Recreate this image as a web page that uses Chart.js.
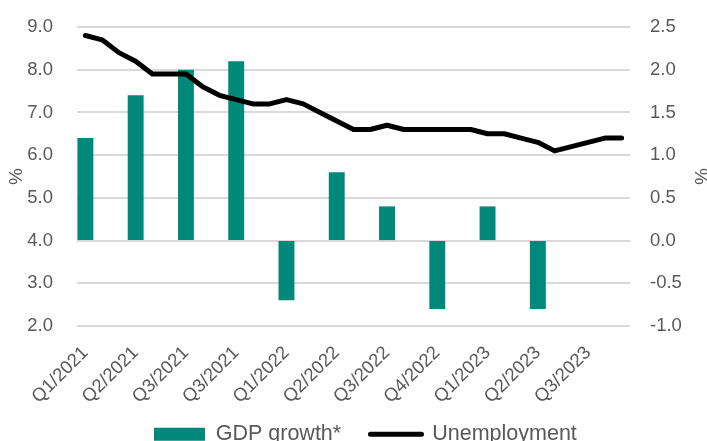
<!DOCTYPE html>
<html>
<head>
<meta charset="utf-8">
<script src="https://cdn.jsdelivr.net/npm/chart.js@4"></script>
<style>
  html, body { margin: 0; padding: 0; background: #ffffff; overflow: hidden; }
  #wrap { width: 707px; height: 441px; overflow: hidden; }
  canvas { display: block; }
</style>
</head>
<body>
<div id="wrap"><canvas id="chart" width="707" height="455"></canvas></div>
<script>
// Quarter labels on the time axis (one per quarter, three months each)
const quarterLabels = ['Q1/2021', 'Q2/2021', 'Q3/2021', 'Q3/2021', 'Q1/2022', 'Q2/2022',
                       'Q3/2022', 'Q4/2022', 'Q1/2023', 'Q2/2023', 'Q3/2023'];

// Quarterly GDP growth, % (right axis)
const gdpGrowth = [1.2, 1.7, 2.0, 2.1, -0.7, 0.8, 0.4, -0.8, 0.4, -0.8];

// Monthly unemployment rate, % (left axis)
const unemployment = [8.8, 8.7, 8.4, 8.2, 7.9, 7.9, 7.9, 7.6, 7.4, 7.3, 7.2, 7.2,
                      7.3, 7.2, 7.0, 6.8, 6.6, 6.6, 6.7, 6.6, 6.6, 6.6, 6.6, 6.6,
                      6.5, 6.5, 6.4, 6.3, 6.1, 6.2, 6.3, 6.4, 6.4];

// Axis ranges
const leftRange = { min: 2, max: 9, step: 1 };
const rightRange = { min: -1, max: 2.5, step: 0.5 };

// Monthly category axis: each quarter label sits on the quarter's first month
const monthLabels = [];
quarterLabels.forEach(q => { monthLabels.push(q, '', ''); });

// GDP bars are placed on the first month of each quarter
const gdpMonthly = monthLabels.map(() => null);
gdpGrowth.forEach((v, i) => { gdpMonthly[i * 3] = v; });

const grey = '#595959';
const family = "'Liberation Sans', Arial, sans-serif";
const clear = 'rgba(0,0,0,0)';

new Chart(document.getElementById('chart'), {
  type: 'bar',
  data: {
    labels: monthLabels,
    datasets: [
      {
        type: 'bar',
        label: 'GDP growth*',
        data: gdpMonthly,
        yAxisID: 'y1',
        backgroundColor: '#00897b',
        borderWidth: 0,
        barPercentage: 0.95,
        categoryPercentage: 1.0,
        pointStyle: 'rect',
        order: 1
      },
      {
        type: 'line',
        label: 'Unemployment',
        data: unemployment,
        yAxisID: 'y',
        borderColor: '#000000',
        backgroundColor: '#000000',
        borderWidth: 5,
        borderCapStyle: 'round',
        borderJoinStyle: 'round',
        pointRadius: 0,
        pointHoverRadius: 0,
        pointStyle: 'line',
        tension: 0,
        order: 0
      }
    ]
  },
  options: {
    responsive: false,
    animation: false,
    devicePixelRatio: 1,
    layout: { padding: { top: 27, left: 23.8, right: 0, bottom: 0 } },
    plugins: {
      tooltip: { enabled: false },
      legend: {
        position: 'bottom',
        labels: {
          color: grey,
          font: { family: family, size: 21.5 },
          usePointStyle: true,
          pointStyleWidth: 51,
          boxHeight: 13,
          padding: 29.3,
          sort: (a, b) => a.datasetIndex - b.datasetIndex,
          generateLabels(chart) {
            const items = Chart.defaults.plugins.legend.labels.generateLabels(chart);
            items.forEach(it => {
              if (it.datasetIndex === 1) {
                it.pointStyle = 'line';
                it.strokeStyle = '#000000';
                it.fillStyle = '#000000';
                it.lineWidth = 5;
                it.lineCap = 'round';
              } else {
                it.pointStyle = 'rect';
                it.lineWidth = 0;
              }
            });
            return items;
          }
        }
      }
    },
    scales: {
      x: {
        type: 'category',
        offset: true,
        grid: { display: false },
        border: { display: false },
        ticks: {
          color: grey,
          font: { family: family, size: 18.5 },
          autoSkip: false,
          maxRotation: 45,
          minRotation: 45,
          padding: 8,
          callback(value, index) { return monthLabels[index]; }
        },
        afterFit(scale) {
          scale.height = 68.2;
          // let the slanted labels run past the bottom of the axis box
          scale._computeLabelArea = () => undefined;
        }
      },
      y: {
        position: 'left',
        min: leftRange.min,
        max: leftRange.max,
        grid: { color: '#d9d9d9', lineWidth: 2, drawTicks: true, tickLength: 24, tickColor: clear },
        border: { display: false },
        ticks: {
          stepSize: leftRange.step,
          color: grey,
          font: { family: family, size: 18.5 },
          padding: 0,
          callback: v => Number(v).toFixed(1)
        },
        title: {
          display: true,
          text: '%',
          color: grey,
          font: { family: family, size: 19, lineHeight: 1 },
          padding: { top: -16.3, bottom: 0 }
        },
        afterFit(scale) { scale.width = 53.2; }
      },
      y1: {
        position: 'right',
        min: rightRange.min,
        max: rightRange.max,
        grid: { display: true, drawOnChartArea: false, drawTicks: true, tickLength: 20, tickColor: clear },
        border: { display: false },
        ticks: {
          stepSize: rightRange.step,
          color: grey,
          font: { family: family, size: 18.5 },
          padding: 0,
          callback: v => Number(v).toFixed(1)
        },
        title: {
          display: true,
          text: '%',
          color: grey,
          font: { family: family, size: 19, lineHeight: 1 },
          padding: { top: -2.5, bottom: 0 }
        },
        afterFit(scale) { scale.width = 77; }
      }
    }
  }
});
</script>
</body>
</html>
